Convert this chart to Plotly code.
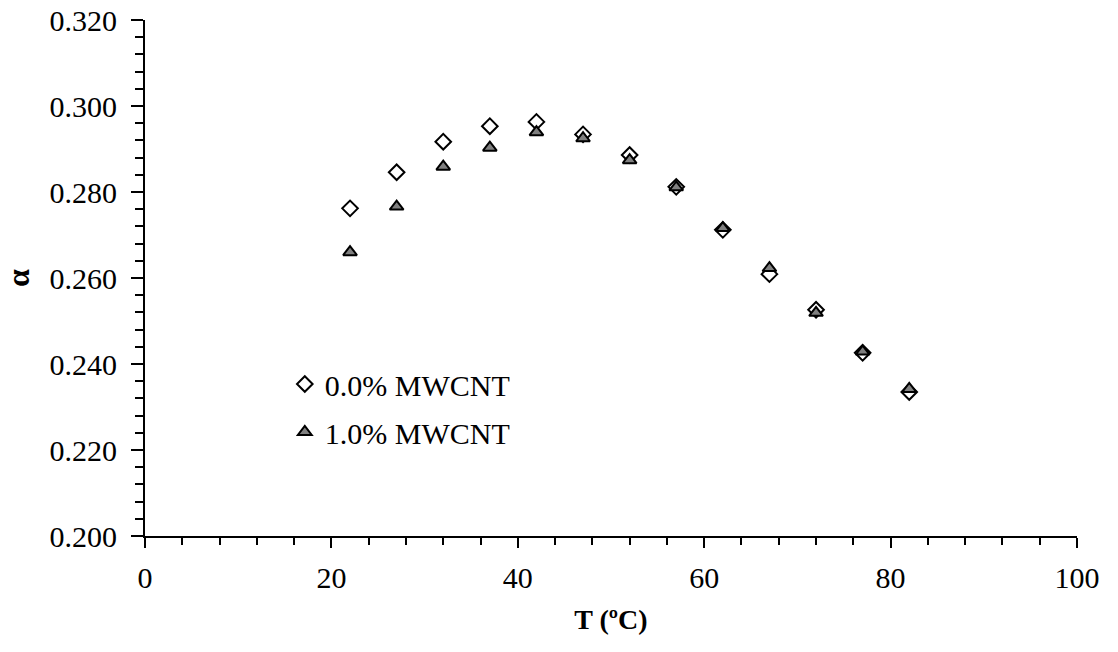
import plotly.graph_objects as go

T = [22, 27, 32, 37, 42, 47, 52, 57, 62, 67, 72, 77, 82]
alpha_0 = [0.2762, 0.2846, 0.2917, 0.2953, 0.2963, 0.2934, 0.2886, 0.2812, 0.2712, 0.2609, 0.2526, 0.2426, 0.2335]
alpha_1 = [0.2660, 0.2766, 0.2859, 0.2903, 0.2939, 0.2925, 0.2874, 0.2811, 0.2716, 0.2623, 0.2519, 0.2429, 0.2342]
names = ["0.0% MWCNT", "1.0% MWCNT"]

FONT = "Liberation Serif, Times New Roman, serif"

fig = go.Figure()
fig.add_trace(go.Scatter(
    x=T, y=alpha_0, mode="markers", name=names[0], legendgroup="a",
    marker=dict(symbol="diamond", size=12, color="white",
                line=dict(color="black", width=2)),
))
fig.add_trace(go.Scatter(
    x=T, y=alpha_1, mode="markers", name=names[1], legendgroup="b",
    marker=dict(symbol="triangle-up", size=12, color="#808080",
                line=dict(color="black", width=2)),
))

axis_common = dict(
    showline=True, linecolor="black", linewidth=2, mirror=False,
    showgrid=False, zeroline=False, automargin=False,
    ticks="outside", tickcolor="black", tickwidth=2,
    tickfont=dict(family=FONT, size=30, color="black"),
)

fig.update_xaxes(
    range=[0, 100], tick0=0, dtick=20, ticklen=10, ticklabelstandoff=4,
    minor=dict(dtick=4, ticks="outside", ticklen=7, tickwidth=2, tickcolor="black"),
    title=dict(text="<b>T (ºC)</b>", font=dict(family=FONT, size=28, color="black"), standoff=16),
    **axis_common,
)
fig.update_yaxes(
    range=[0.200, 0.320], tick0=0.2, dtick=0.02, ticklen=12, tickformat=".3f",
    ticklabelstandoff=8,
    minor=dict(dtick=0.004, ticks="outside", ticklen=8, tickwidth=2, tickcolor="black"),
    title=dict(text="<b>α</b>", font=dict(family=FONT, size=32, color="black"), standoff=12),
    **axis_common,
)

fig.update_layout(
    width=1118, height=652,
    margin=dict(l=145, r=41, t=20, b=116),
    paper_bgcolor="white", plot_bgcolor="white",
    showlegend=True,
    legend=dict(
        x=0.150, y=0.345, xanchor="left", yanchor="top",
        font=dict(family=FONT, size=30, color="black"),
        bgcolor="rgba(0,0,0,0)", tracegroupgap=6, itemwidth=30,
    ),
)

fig.write_html("out.html")
